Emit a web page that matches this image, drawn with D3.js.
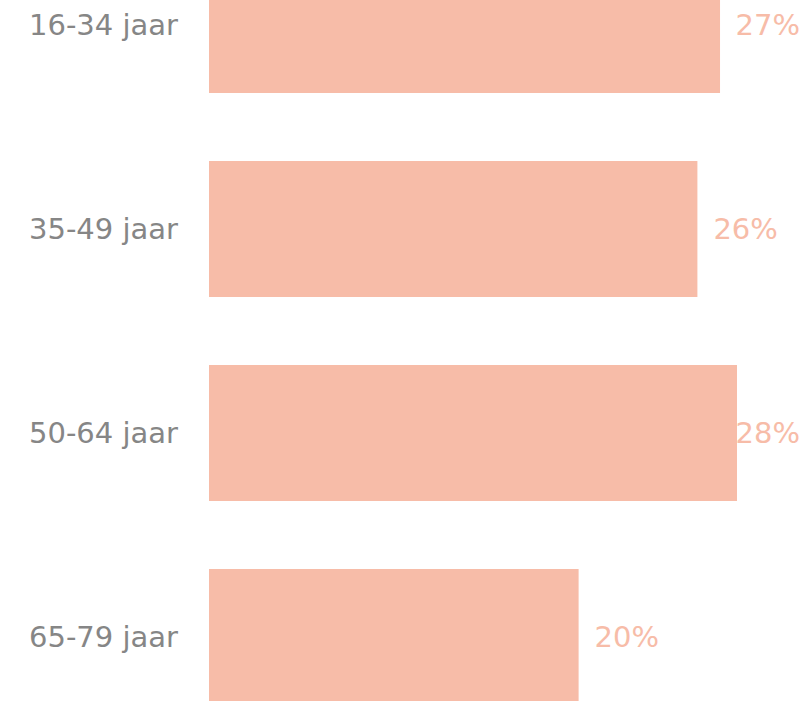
<!DOCTYPE html>
<html>
<head>
<meta charset="utf-8">
<script src="https://cdn.jsdelivr.net/npm/d3@7"></script>
<style>
  html, body { margin: 0; padding: 0; background: #fff; overflow: hidden; }
  text { font-family: "DejaVu Sans", sans-serif; }
</style>
</head>
<body>
<div id="chart"></div>
<script>
// data
const categories = ['16-34 jaar', '35-49 jaar', '50-64 jaar', '65-79 jaar']
const values = [27.1, 25.9, 28.0, 19.6]
const labels = ['27%', '26%', '28%', '20%']

const width = 810
const height = 701
const barColor = '#f7bca8'
const textColor = '#868686'

const svg = d3.select('#chart').append('svg')
    .attr('width', width).attr('height', height)

const data = categories.map((c, i) => ({ cat: c, value: values[i], label: labels[i] }))

// schalen
const xScale = d3.scaleLinear()
    .domain([0, 28])
    .range([209, 737])

const yScale = d3.scaleBand()
    .domain(categories)
    .range([-77, 739])
    .paddingInner(1 / 3)
    .paddingOuter(1 / 6)

// balken
svg.selectAll('rect').data(data).enter().append('rect')
    .attr('x', xScale(0))
    .attr('y', d => yScale(d.cat))
    .attr('width', d => xScale(d.value) - xScale(0))
    .attr('height', yScale.bandwidth())
    .attr('fill', barColor)

// categorie labels
svg.selectAll('.cat').data(data).enter().append('text')
    .attr('class', 'cat')
    .attr('x', 178)
    .attr('y', d => yScale(d.cat) + yScale.bandwidth() / 2)
    .attr('dy', '0.35em')
    .attr('text-anchor', 'end')
    .attr('fill', textColor)
    .style('font-size', '29px')
    .text(d => d.cat)

// waarde labels, niet buiten de svg laten vallen
svg.selectAll('.val').data(data).enter().append('text')
    .attr('class', 'val')
    .attr('y', d => yScale(d.cat) + yScale.bandwidth() / 2)
    .attr('dy', '0.35em')
    .attr('fill', barColor)
    .style('font-size', '29px')
    .text(d => d.label)
    .attr('x', function (d) {
        const w = this.getComputedTextLength()
        return Math.min(xScale(d.value) + 16, width - 10 - w)
    })
</script>
</body>
</html>
